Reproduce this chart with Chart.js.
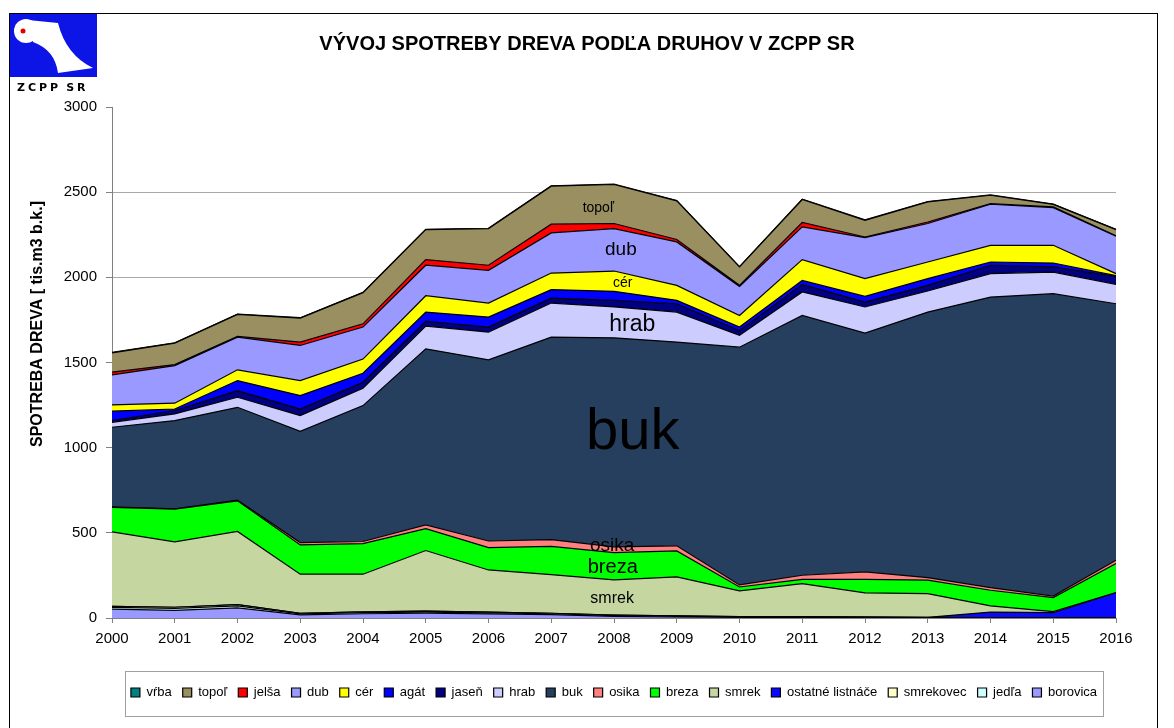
<!DOCTYPE html>
<html>
<head>
<meta charset="utf-8">
<script src="https://cdn.jsdelivr.net/npm/chart.js@4.4.1/dist/chart.umd.min.js"></script>
<style>
  body { margin: 0; background: #fff; }
  #wrap { width: 1174px; height: 728px; position: relative; }
</style>
</head>
<body>
<div id="wrap"><canvas id="chart"></canvas></div>
<script>
// Roky
const roky = ['2000','2001','2002','2003','2004','2005','2006','2007','2008','2009','2010','2011','2012','2013','2014','2015','2016'];

// Spotreba dreva podla druhov (tis. m3 b.k.), odspodu nahor
const borovica  = [52,45,60,18,25,28,24,20,10,6,4,4,3,2,1,0,0];
const jedla     = [10,11,11,6,7,7,6,5,4,3,2,2,2,1,1,1,0];
const smrekovec = [6,7,7,4,4,5,4,3,3,3,2,2,1,1,0,0,1];
const ostatne   = [0,0,0,0,0,0,0,0,0,0,0,0,0,0,33,30,147];
const smrek     = [438,384,430,229,221,356,248,227,207,229,151,194,141,139,36,6,2];
const breza     = [143,192,180,172,180,129,131,165,160,153,23,25,80,79,92,83,170];
const osika     = [3,2,4,14,12,22,39,40,34,30,12,24,44,15,15,9,19];
const buk       = [468,518,545,653,798,1033,1064,1189,1227,1196,1396,1525,1402,1559,1706,1775,1506];
const hrab      = [29,39,59,92,102,134,162,200,181,176,69,138,153,124,138,127,114];
const jasen     = [10,20,39,39,35,27,30,29,39,49,29,45,29,33,49,30,45];
const agat      = [55,9,59,79,53,55,59,50,53,20,20,23,33,39,19,23,6];
const cer       = [37,34,63,88,83,96,82,97,119,88,68,122,104,98,98,104,12];
const dub       = [176,221,192,206,188,179,192,236,249,255,171,192,241,226,241,221,219];
const jelsa     = [16,6,4,20,19,33,30,51,30,14,6,26,4,9,4,5,3];
const topol     = [114,126,129,141,183,176,215,223,229,227,108,135,98,118,49,14,36];
const vrba      = [2,2,2,2,2,2,2,2,2,2,2,2,2,2,2,2,2];

// Popisky priamo v grafe (x = index roka, y = hodnota)
const popisky = [
  { text: 'topoľ', x: 7.75, y: 2406, size: 14 },
  { text: 'dub',   x: 8.11, y: 2159, size: 19 },
  { text: 'cér',   x: 8.14, y: 1965, size: 14 },
  { text: 'hrab',  x: 8.29, y: 1724, size: 23 },
  { text: 'buk',   x: 8.30, y: 1088, size: 58 },
  { text: 'osika', x: 7.97, y: 424,  size: 19 },
  { text: 'breza', x: 7.98, y: 296,  size: 20 },
  { text: 'smrek', x: 7.97, y: 116,  size: 16 }
];

const FONT = '"Liberation Sans", Arial, sans-serif';
Chart.defaults.font.family = FONT;
Chart.defaults.color = '#000';

const serie = [
  ['borovica', borovica, '#9999ff'],
  ['jedľa', jedla, '#ccffff'],
  ['smrekovec', smrekovec, '#ffffcc'],
  ['ostatné listnáče', ostatne, '#0a0aff'],
  ['smrek', smrek, '#c6d6a0'],
  ['breza', breza, '#00ff00'],
  ['osika', osika, '#ff8080'],
  ['buk', buk, '#273f5e'],
  ['hrab', hrab, '#ccccff'],
  ['jaseň', jasen, '#000080'],
  ['agát', agat, '#0000ff'],
  ['cér', cer, '#ffff00'],
  ['dub', dub, '#9999ff'],
  ['jelša', jelsa, '#ff0000'],
  ['topoľ', topol, '#998f60'],
  ['vŕba', vrba, '#008080']
];

const datasets = serie.map((s, i) => ({
  label: s[0],
  data: s[1],
  backgroundColor: s[2],
  borderColor: '#000',
  borderWidth: 1.2,
  pointRadius: 0,
  pointHoverRadius: 0,
  tension: 0,
  fill: i === 0 ? 'origin' : '-1'
}));

// Ram, logo, nadpis, popisky
const dekor = {
  id: 'dekor',
  beforeDraw(chart) {
    const ctx = chart.ctx;
    ctx.save();
    ctx.fillStyle = '#fff';
    ctx.fillRect(0, 0, chart.width, chart.height);
    ctx.strokeStyle = '#000';
    ctx.lineWidth = 1;
    ctx.strokeRect(9.5, 13.5, 1148, 730);

    // logo
    ctx.fillStyle = '#0c14e6';
    ctx.fillRect(10, 14, 87, 63);
    ctx.fillStyle = '#fff';
    ctx.beginPath();
    ctx.moveTo(28, 20);
    ctx.lineTo(58, 23);
    ctx.quadraticCurveTo(66, 55, 93, 68);
    ctx.lineTo(58, 73);
    ctx.quadraticCurveTo(55, 50, 33, 42);
    ctx.closePath();
    ctx.fill();
    ctx.beginPath();
    ctx.arc(26, 31, 12, 0, Math.PI * 2);
    ctx.fill();
    ctx.fillStyle = '#e00000';
    ctx.beginPath();
    ctx.arc(23, 31, 2.5, 0, Math.PI * 2);
    ctx.fill();
    ctx.fillStyle = '#000';
    ctx.font = 'bold 11px "DejaVu Sans"';
    ctx.textBaseline = 'middle';
    ctx.textAlign = 'left';
    let px = 17;
    'ZCPP SR'.split('').forEach(z => {
      ctx.fillText(z, px, 88);
      px += z === ' ' ? 5 : ctx.measureText(z).width + 3;
    });

    // nadpis
    ctx.textAlign = 'center';
    ctx.font = 'bold 20px ' + FONT;
    ctx.fillText('VÝVOJ SPOTREBY DREVA PODĽA DRUHOV V ZCPP SR', 587, 44);

    // nazov osi y
    ctx.translate(38, 324);
    ctx.rotate(-Math.PI / 2);
    ctx.font = 'bold 16px ' + FONT;
    ctx.fillText('SPOTREBA DREVA [ tis.m3 b.k.]', 0, 0);
    ctx.restore();
  },
  afterDatasetsDraw(chart) {
    const ctx = chart.ctx;
    const x = chart.scales.x, y = chart.scales.y;
    ctx.save();
    ctx.fillStyle = '#000';
    ctx.textAlign = 'center';
    ctx.textBaseline = 'middle';
    popisky.forEach(p => {
      ctx.font = p.size + 'px ' + FONT;
      ctx.fillText(p.text, x.getPixelForValue(p.x), y.getPixelForValue(p.y));
    });
    ctx.restore();
  },
  afterDraw(chart) {
    const boxes = chart.legend.legendHitBoxes;
    if (!boxes || !boxes.length) return;
    const l = Math.min(...boxes.map(b => b.left)) - 6;
    const r = Math.max(...boxes.map(b => b.left + b.width)) + 6;
    const cy = boxes[0].top + boxes[0].height / 2;
    const ctx = chart.ctx;
    ctx.save();
    ctx.strokeStyle = '#a0a0a0';
    ctx.lineWidth = 1;
    ctx.strokeRect(Math.round(l) + 0.5, Math.round(cy - 22) + 0.5, Math.round(r - l), 45);
    ctx.restore();
  }
};

new Chart(document.getElementById('chart'), {
  type: 'line',
  data: { labels: roky, datasets: datasets },
  plugins: [dekor],
  options: {
    responsive: true,
    maintainAspectRatio: false,
    animation: false,
    layout: { padding: { left: 22, right: 58, top: 107, bottom: 19 } },
    plugins: {
      title: { display: false },
      tooltip: { enabled: false },
      legend: {
        position: 'bottom',
        fullSize: false,
        reverse: true,
        labels: {
          boxWidth: 9,
          boxHeight: 9,
          padding: 11,
          font: { size: 13 },
          color: '#000'
        }
      }
    },
    scales: {
      x: {
        ticks: { color: '#000', font: { size: 15 }, padding: 7, maxRotation: 0, autoSkip: false },
        grid: { drawOnChartArea: false, tickLength: 5, color: '#808080' },
        border: { color: '#808080' },
        afterFit: s => { s.height = 57; }
      },
      y: {
        stacked: true,
        min: 0,
        max: 3000,
        ticks: { stepSize: 500, color: '#000', font: { size: 15 }, padding: 9, callback: v => String(v) },
        grid: {
          color: c => (c.tick && c.tick.value === 3000) ? 'rgba(0,0,0,0)' : '#a8a8a8',
          tickColor: '#808080',
          tickLength: 6
        },
        border: { color: '#808080' },
        afterFit: s => { s.width = 90; }
      }
    }
  }
});
</script>
</body>
</html>
